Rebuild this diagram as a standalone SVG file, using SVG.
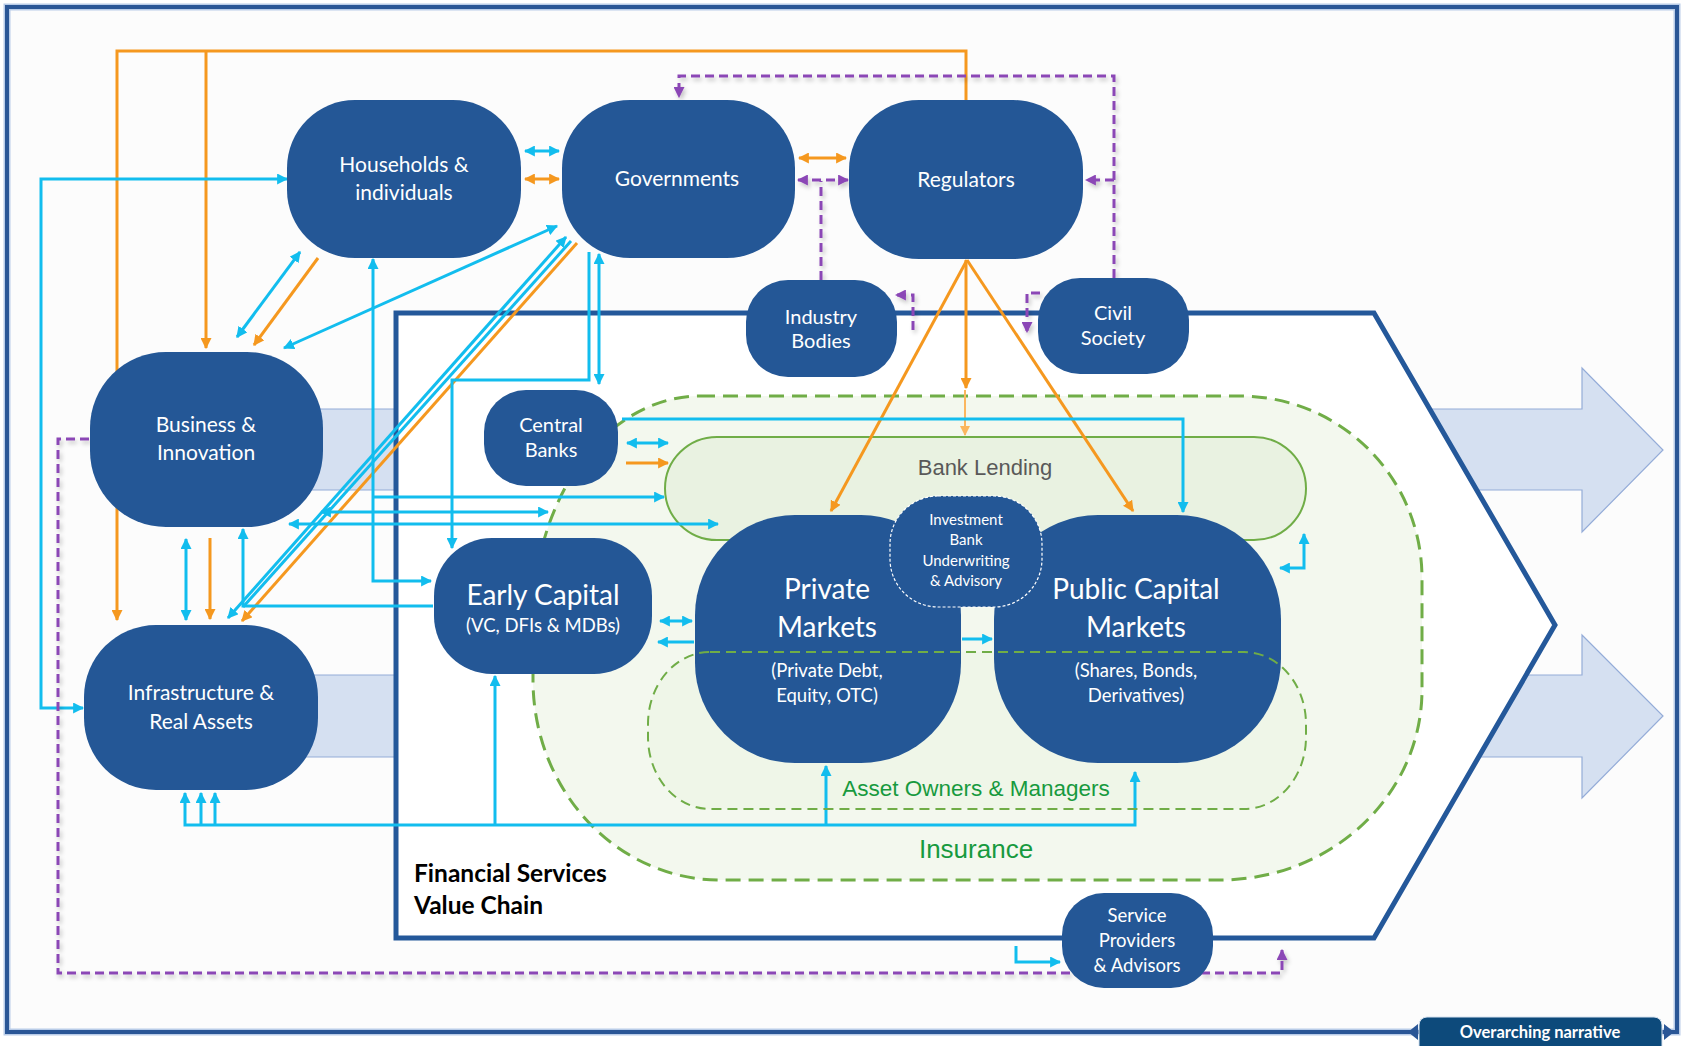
<svg xmlns="http://www.w3.org/2000/svg" width="1681" height="1046" viewBox="0 0 1681 1046">
  <style>
    .node rect { fill: #245796; }
    .nt { font-family: Lato, 'Open Sans', 'Liberation Sans', sans-serif; fill: #ffffff; text-anchor: middle; }
    .s21 { font-size: 21px; }
    .s20 { font-size: 20px; }
    .s19 { font-size: 18.5px; }
    .s28 { font-size: 28px; }
    .s15 { font-size: 15px; }
    .cy { stroke: #12bdee; stroke-width: 3; fill: none; }
    .or { stroke: #f5981f; stroke-width: 3; fill: none; }
    .ol { stroke: #fbb65e; stroke-width: 2; fill: none; }
    .pu { stroke: #8b46b6; stroke-width: 3; fill: none; stroke-dasharray: 9 5; }
    .both-c { marker-start: url(#ac); marker-end: url(#ac); }
    .end-c { marker-end: url(#ac); }
    .both-o { marker-start: url(#ao); marker-end: url(#ao); }
    .end-o { marker-end: url(#ao); }
    .end-p { marker-end: url(#ap); }
    .both-p { marker-start: url(#ap); marker-end: url(#ap); }
    .band { fill: #d5e0f1; stroke: #94acd8; stroke-width: 1.2; }
    .zone-lbl { font-family: 'Liberation Sans', Arial, sans-serif; text-anchor: middle; }
  </style>
  <defs>
    <marker id="ac" viewBox="0 0 10 10" refX="9" refY="5" markerWidth="11" markerHeight="11" markerUnits="userSpaceOnUse" orient="auto-start-reverse">
      <path d="M0,0 L10,5 L0,10 z" fill="#12bdee"/>
    </marker>
    <marker id="ao" viewBox="0 0 10 10" refX="9" refY="5" markerWidth="11" markerHeight="11" markerUnits="userSpaceOnUse" orient="auto-start-reverse">
      <path d="M0,0 L10,5 L0,10 z" fill="#f5981f"/>
    </marker>
    <marker id="al" viewBox="0 0 10 10" refX="9" refY="5" markerWidth="10" markerHeight="10" markerUnits="userSpaceOnUse" orient="auto-start-reverse">
      <path d="M0,0 L10,5 L0,10 z" fill="#fbb65e"/>
    </marker>
    <marker id="ap" viewBox="0 0 10 10" refX="9" refY="5" markerWidth="11" markerHeight="11" markerUnits="userSpaceOnUse" orient="auto-start-reverse">
      <path d="M0,0 L10,5 L0,10 z" fill="#8b46b6"/>
    </marker>
    <!-- user-space region so straight horizontal/vertical lines keep their shadow -->
    <filter id="shadow" filterUnits="userSpaceOnUse" x="0" y="0" width="1681" height="1046">
      <feDropShadow dx="2" dy="3" stdDeviation="2" flood-color="#000000" flood-opacity="0.22"/>
    </filter>
  </defs>

  <!-- page and outer frame -->
  <rect x="0" y="0" width="1681" height="1046" fill="#ffffff"/>
  <rect x="7" y="7" width="1670" height="1025" fill="#fcfcfc" stroke="#b9cce8" stroke-width="7"/>
  <rect x="7" y="7" width="1670" height="1025" fill="none" stroke="#2a5696" stroke-width="4"/>

  <!-- outcome arrows running behind the value chain -->
  <polygon class="band" points="290,409 1582,409 1582,368 1663,450 1582,532 1582,490 290,490"/>
  <polygon class="band" points="290,675 1582,675 1582,635 1663,716 1582,798 1582,757 290,757"/>

  <!-- financial services value chain outline -->
  <path d="M396,313 H1374 L1555,625 L1374,938 H396 Z" fill="#ffffff" stroke="#24589a" stroke-width="5" stroke-linejoin="miter"/>
  <text x="414" y="882" font-family="Lato, 'Open Sans', sans-serif" font-weight="bold" font-size="24.5" fill="#000000">Financial Services</text>
  <text x="414" y="914" font-family="Lato, 'Open Sans', sans-serif" font-weight="bold" font-size="24.5" fill="#000000">Value Chain</text>

  <!-- sector zones -->
  <g id="insurance">
    <path d="M700,396 H1240 A182,182 0 0 1 1422,578 V690 A202,190 0 0 1 1220,880 H720 A187,200 0 0 1 533,680 V620 A167,224 0 0 1 700,396 Z" fill="#f3f8ee" stroke="#70ad47" stroke-width="3" stroke-dasharray="15 8"/>
    <text class="zone-lbl" x="976" y="858" font-size="26" fill="#179a3e">Insurance</text>
  </g>
  <g id="bank-lending">
    <rect x="665" y="437" width="641" height="103" rx="52" ry="52" fill="#e9f2e1" stroke="#70ad47" stroke-width="2"/>
    <text class="zone-lbl" x="985" y="475" font-size="22" fill="#595959">Bank Lending</text>
  </g>
  <g id="asset-owners">
    <rect x="648" y="652" width="658" height="157" rx="62" ry="72" fill="#eff6e8"/>
    <text class="zone-lbl" x="976" y="796" font-size="22.5" fill="#179a3e">Asset Owners &amp; Managers</text>
  </g>

  <!-- connectors -->
  <g id="connectors">
    <!-- orange: policy and regulation flows -->
    <path class="or end-o" d="M966,100 V51 H117 V620"/>
    <path class="or end-o" d="M206,51 V348"/>
    <path class="or both-o" d="M525,179 H559"/>
    <path class="or both-o" d="M799,158 H846"/>
    <path class="or end-o" d="M318,258 L254,345"/>
    <path class="or end-o" d="M577,243 L242,621"/>
    <path class="or end-o" d="M210,538 V619"/>
    <path class="or end-o" d="M626,463 H668"/>
    <path class="or end-o" d="M967,260 L831,511"/>
    <path class="or end-o" d="M967,260 L1133,511"/>
    <path class="or end-o" d="M966,260 V388"/>
    <path class="ol" d="M965,390 V435" marker-end="url(#al)"/>

    <!-- cyan: capital flows -->
    <path class="cy both-c" d="M287,179 H41 V708 H83"/>
    <path class="cy both-c" d="M525,151 H559"/>
    <path class="cy both-c" d="M300,252 L237,337"/>
    <path class="cy both-c" d="M557,226 L284,348"/>
    <path class="cy both-c" d="M373,259 V581 H431"/>
    <path class="cy end-c" d="M373,497 H664"/>
    <path class="cy both-c" d="M321,512 H548"/>
    <path class="cy both-c" d="M289,524 H718"/>
    <path class="cy both-c" d="M566,237 L228,618"/>
    <path class="cy" d="M571,241 L243,607"/>
    <path class="cy end-c" d="M433,606 H243 V529"/>
    <path class="cy both-c" d="M186,539 V620"/>
    <path class="cy end-c" d="M589,252 V380 H452 V548"/>
    <path class="cy both-c" d="M599,254 V384"/>
    <path class="cy end-c" d="M622,419 H1183 V512"/>
    <path class="cy both-c" d="M627,443 H668"/>
    <path class="cy both-c" d="M660,621 H692"/>
    <path class="cy end-c" d="M694,642 H658"/>
    <path class="cy end-c" d="M962,639 H992"/>
    <path class="cy both-c" d="M185,793 V825 H1135 V772"/>
    <path class="cy end-c" d="M201,825 V793"/>
    <path class="cy end-c" d="M215,825 V793"/>
    <path class="cy end-c" d="M495,825 V676"/>
    <path class="cy end-c" d="M826,825 V766"/>
    <path class="cy both-c" d="M1280,568 H1304 V534"/>
    <path class="cy end-c" d="M1016,946 V962 H1060"/>

    <!-- purple dashed: influence and advocacy -->
    <g filter="url(#shadow)">
      <path class="pu end-p" d="M1114,278 V76 H679 V97"/>
      <path class="pu end-p" d="M1114,180 H1086"/>
      <path class="pu both-p" d="M798,180 H848"/>
      <path class="pu" d="M821,280 V181"/>
      <path class="pu end-p" d="M913,330 V295 H896"/>
      <path class="pu end-p" d="M1040,293 H1027 V332"/>
      <path class="pu end-p" d="M89,439 H58 V973 H1282 V950"/>
    </g>
  </g>

  <!-- nodes -->
  <g id="households" class="node">
    <rect x="287" y="100" width="234" height="158" rx="68" ry="68"/>
    <text class="nt s21" x="404" y="172">Households &amp;</text>
    <text class="nt s21" x="404" y="200">individuals</text>
  </g>
  <g id="governments" class="node">
    <rect x="562" y="100" width="233" height="158" rx="68" ry="68"/>
    <text class="nt s21" x="677" y="186">Governments</text>
  </g>
  <g id="regulators" class="node">
    <rect x="849" y="100" width="234" height="159" rx="70" ry="70"/>
    <text class="nt s21" x="966" y="187">Regulators</text>
  </g>
  <g id="business" class="node">
    <rect x="90" y="352" width="233" height="175" rx="76" ry="76"/>
    <text class="nt s21" x="206" y="432">Business &amp;</text>
    <text class="nt s21" x="206" y="460">Innovation</text>
  </g>
  <g id="infrastructure" class="node">
    <rect x="84" y="625" width="234" height="165" rx="72" ry="72"/>
    <text class="nt s21" x="201" y="700">Infrastructure &amp;</text>
    <text class="nt s21" x="201" y="729">Real Assets</text>
  </g>
  <g id="industry-bodies" class="node">
    <rect x="746" y="280" width="151" height="97" rx="42" ry="42"/>
    <text class="nt s20" x="821" y="324">Industry</text>
    <text class="nt s20" x="821" y="348">Bodies</text>
  </g>
  <g id="civil-society" class="node">
    <rect x="1038" y="278" width="151" height="96" rx="42" ry="42"/>
    <text class="nt s20" x="1113" y="320">Civil</text>
    <text class="nt s20" x="1113" y="345">Society</text>
  </g>
  <g id="central-banks" class="node">
    <rect x="484" y="390" width="134" height="96" rx="42" ry="42"/>
    <text class="nt s20" x="551" y="432">Central</text>
    <text class="nt s20" x="551" y="457">Banks</text>
  </g>
  <g id="early-capital" class="node">
    <rect x="434" y="538" width="218" height="136" rx="58" ry="58"/>
    <text class="nt s28" x="543" y="605">Early Capital</text>
    <text class="nt s19" x="543" y="632">(VC, DFIs &amp; MDBs)</text>
  </g>
  <g id="private-markets" class="node">
    <rect x="695" y="515" width="266" height="248" rx="100" ry="100"/>
    <text class="nt s28" x="827" y="599">Private</text>
    <text class="nt s28" x="827" y="637">Markets</text>
    <text class="nt s19" x="827" y="677">(Private Debt,</text>
    <text class="nt s19" x="827" y="702">Equity, OTC)</text>
  </g>
  <g id="public-markets" class="node">
    <rect x="994" y="515" width="287" height="248" rx="104" ry="104"/>
    <text class="nt s28" x="1136" y="599">Public Capital</text>
    <text class="nt s28" x="1136" y="637">Markets</text>
    <text class="nt s19" x="1136" y="677">(Shares, Bonds,</text>
    <text class="nt s19" x="1136" y="702">Derivatives)</text>
  </g>
  <g id="investment-bank" class="node">
    <rect x="890" y="496" width="152" height="111" rx="48" ry="48" stroke="#ffffff" stroke-width="1.2" stroke-dasharray="3 2"/>
    <text class="nt s15" x="966" y="525">Investment</text>
    <text class="nt s15" x="966" y="545">Bank</text>
    <text class="nt s15" x="966" y="566">Underwriting</text>
    <text class="nt s15" x="966" y="586">&amp; Advisory</text>
  </g>
  <g id="service-providers" class="node">
    <rect x="1062" y="893" width="151" height="95" rx="42" ry="42"/>
    <text class="nt s19" x="1137" y="922">Service</text>
    <text class="nt s19" x="1137" y="947">Providers</text>
    <text class="nt s19" x="1137" y="972">&amp; Advisors</text>
  </g>

  <!-- asset owners boundary drawn over the market nodes -->
  <rect x="648" y="652" width="658" height="157" rx="62" ry="72" fill="none" stroke="#70ad47" stroke-width="2" stroke-dasharray="10 6"/>

  <!-- overarching narrative tab on the frame -->
  <g id="overarching-narrative">
    <polygon points="1408,1032 1418,1024 1418,1040" fill="#2a5696"/>
    <polygon points="1674,1032 1664,1024 1664,1040" fill="#2a5696"/>
    <rect x="1419" y="1017" width="243" height="40" rx="8" ry="8" fill="#0d4a7b" stroke="#d7e2f0" stroke-width="1"/>
    <text x="1540" y="1038" font-family="Lato, 'Open Sans', sans-serif" font-size="16.5" font-weight="bold" fill="#ffffff" text-anchor="middle">Overarching narrative</text>
  </g>
</svg>
